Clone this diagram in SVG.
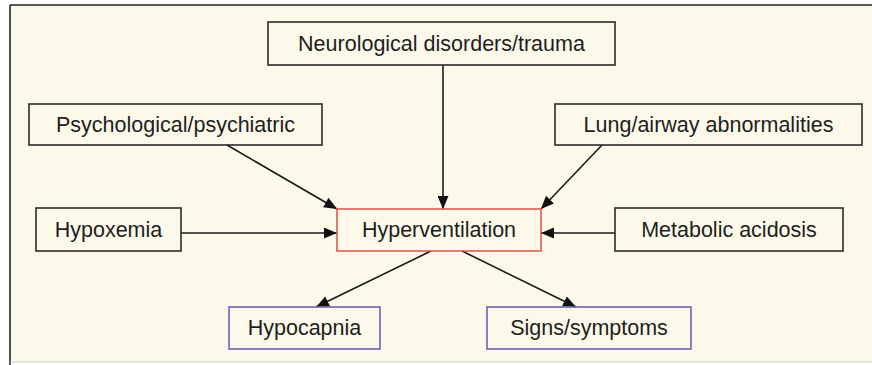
<svg xmlns="http://www.w3.org/2000/svg" width="872" height="365" viewBox="0 0 872 365">
  <defs>
    <marker id="arrow" viewBox="0 0 13 11" refX="13" refY="5.5" markerWidth="13" markerHeight="11" markerUnits="userSpaceOnUse" orient="auto">
      <path d="M0,0 L13,5.5 L0,11 Z" fill="#111"/>
    </marker>
    <style>
      .box { fill: none; stroke: #2b2b2b; stroke-width: 1.6; }
      .red { stroke: #de5a55; }
      .blue { stroke: #6a64b4; }
      .label { font-family: "Liberation Sans", Arial, sans-serif; font-size: 21.5px; fill: #1e1e1e; text-anchor: middle; }
      .edge { stroke: #1a1a1a; stroke-width: 1.6; fill: none; marker-end: url(#arrow); }
    </style>
  </defs>

  <!-- panel -->
  <rect x="0" y="0" width="872" height="365" fill="#ffffff"/>
  <rect x="10" y="5" width="862" height="357" fill="#fcf9ea"/>
  <line x1="10" y1="5" x2="872" y2="5" stroke="#222" stroke-width="1.6"/>
  <line x1="10" y1="5" x2="10" y2="365" stroke="#222" stroke-width="1.6"/>
  <line x1="10" y1="362" x2="872" y2="362" stroke="#c9c9c0" stroke-width="1.2"/>

  <g id="edges">
    <line class="edge" x1="443" y1="65" x2="443" y2="209"/>
    <line class="edge" x1="227" y1="145" x2="337" y2="209"/>
    <line class="edge" x1="602" y1="145" x2="541" y2="209"/>
    <line class="edge" x1="181" y1="233" x2="337" y2="233"/>
    <line class="edge" x1="615" y1="233" x2="541" y2="233"/>
    <line class="edge" x1="431" y1="251" x2="316" y2="307"/>
    <line class="edge" x1="462" y1="251" x2="576" y2="307"/>
  </g>

  <g id="neuro">
    <rect class="box" x="268" y="22" width="347" height="43"/>
    <text class="label" x="441.5" y="51">Neurological disorders/trauma</text>
  </g>
  <g id="psych">
    <rect class="box" x="29" y="104" width="293" height="41"/>
    <text class="label" x="175.5" y="132">Psychological/psychiatric</text>
  </g>
  <g id="lung">
    <rect class="box" x="555" y="104" width="307" height="41"/>
    <text class="label" x="708.5" y="132">Lung/airway abnormalities</text>
  </g>
  <g id="hypoxemia">
    <rect class="box" x="36" y="208" width="145" height="43"/>
    <text class="label" x="108.5" y="237">Hypoxemia</text>
  </g>
  <g id="hyperventilation">
    <rect class="box red" x="337" y="209" width="204" height="42"/>
    <text class="label" x="439" y="237">Hyperventilation</text>
  </g>
  <g id="metabolic">
    <rect class="box" x="615" y="208" width="228" height="43"/>
    <text class="label" x="729" y="237">Metabolic acidosis</text>
  </g>
  <g id="hypocapnia">
    <rect class="box blue" x="229" y="307" width="151" height="42"/>
    <text class="label" x="304.5" y="335">Hypocapnia</text>
  </g>
  <g id="signs">
    <rect class="box blue" x="487" y="307" width="204" height="42"/>
    <text class="label" x="589" y="335">Signs/symptoms</text>
  </g>
</svg>
